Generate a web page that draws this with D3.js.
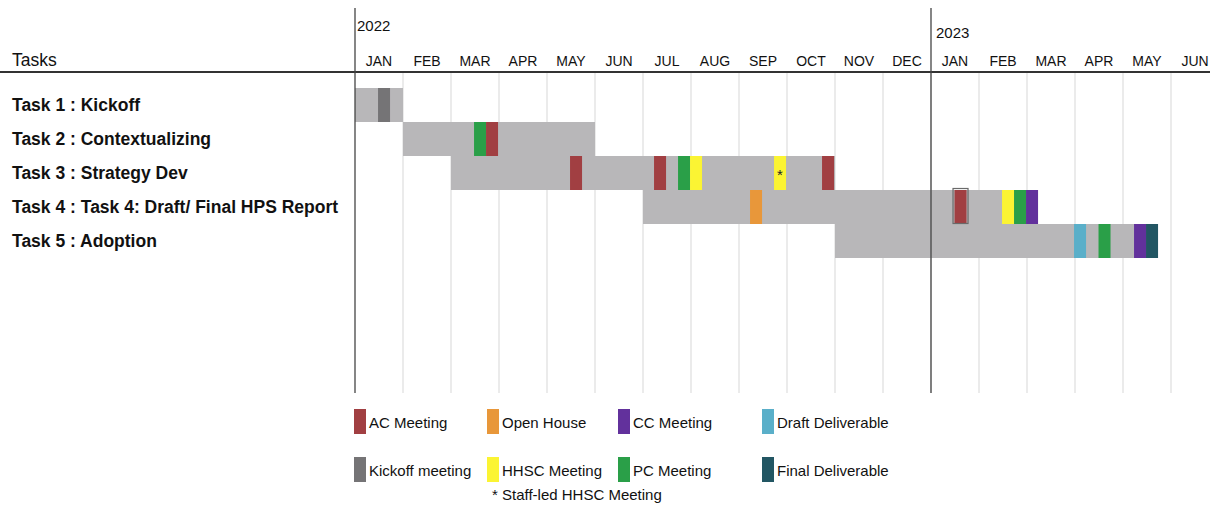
<!DOCTYPE html>
<html>
<head>
<meta charset="utf-8">
<script src="https://cdn.jsdelivr.net/npm/d3@7"></script>
<style>
  body { margin: 0; background: #fff; }
  svg { display: block; font-family: "Liberation Sans", Arial, sans-serif; }
</style>
</head>
<body>
<svg id="chart" width="1210" height="506"></svg>
<script>
// months shown on the timeline (Jan 2022 .. Jun 2023)
const months = ["JAN", "FEB", "MAR", "APR", "MAY", "JUN", "JUL", "AUG", "SEP", "OCT", "NOV", "DEC",
                "JAN", "FEB", "MAR", "APR", "MAY", "JUN"];
const years = [{ label: "2022", at: 0 }, { label: "2023", at: 12 }];

const tasks = ["Task 1 : Kickoff", "Task 2 : Contextualizing", "Task 3 : Strategy Dev",
               "Task 4 : Task 4: Draft/ Final HPS Report", "Task 5 : Adoption"];
// in month units from Jan 2022
const taskStart = [0, 1, 2, 6, 10];
const taskEnd = [1, 5, 10, 14.23, 16.73];

// milestones: task index, type, month position
const milestoneTask = [0, 1, 1, 2, 2, 2, 2, 2, 2, 3, 3, 3, 3, 3, 4, 4, 4, 4];
const milestoneType = ["kick", "pc", "ac", "ac", "ac", "pc", "hhsc", "hhsc*", "ac",
                       "open", "ac", "hhsc", "pc", "cc", "draft", "pc", "cc", "final"];
const milestoneAt = [0.48, 2.48, 2.73, 4.48, 6.23, 6.73, 6.98, 8.73, 9.73,
                     8.23, 12.49, 13.48, 13.73, 13.98, 14.98, 15.49, 16.23, 16.48];

const legendKeys = ["ac", "open", "cc", "draft", "kick", "hhsc", "pc", "final"];
const legendLabels = ["AC Meeting", "Open House", "CC Meeting", "Draft Deliverable",
                      "Kickoff meeting", "HHSC Meeting", "PC Meeting", "Final Deliverable"];

const colors = {
    ac: "#a13f42", open: "#e8973a", cc: "#62319c", draft: "#5aafc9",
    kick: "#757476", hhsc: "#fbf433", "hhsc*": "#fbf433", pc: "#2a9f48", final: "#225663"
};

const svg = d3.select("#chart");
const W = 1210;

const x = d3.scaleLinear().domain([0, 18]).range([355, 355 + 18 * 48]);
const y = d3.scaleBand().domain(d3.range(tasks.length)).range([88, 88 + 34 * tasks.length]).padding(0);
const gridTop = 72, gridBottom = 393;

// light month gridlines
svg.append("g")
    .selectAll("line")
    .data(d3.range(1, 18))
    .join("line")
    .attr("x1", d => x(d)).attr("x2", d => x(d))
    .attr("y1", gridTop).attr("y2", gridBottom)
    .attr("stroke", "#dedede")
    .attr("stroke-width", 1.2);

// task bars
svg.append("g")
    .selectAll("rect")
    .data(tasks)
    .join("rect")
    .attr("x", (d, i) => x(taskStart[i]))
    .attr("y", (d, i) => y(i))
    .attr("width", (d, i) => x(taskEnd[i]) - x(taskStart[i]))
    .attr("height", y.bandwidth())
    .attr("fill", "#b8b7b9");

// milestones
const ms = milestoneAt.map((m, i) => ({ at: m, task: milestoneTask[i], type: milestoneType[i] }));
svg.append("g")
    .selectAll("rect")
    .data(ms)
    .join("rect")
    .attr("x", d => x(d.at))
    .attr("y", d => y(d.task))
    .attr("width", x(0.25) - x(0))
    .attr("height", y.bandwidth())
    .attr("fill", d => colors[d.type]);

svg.append("g")
    .selectAll("text")
    .data(ms.filter(d => d.type === "hhsc*"))
    .join("text")
    .attr("x", d => x(d.at + 0.125))
    .attr("y", d => y(d.task) + y.bandwidth() / 2 + 7)
    .attr("text-anchor", "middle")
    .attr("font-size", 15)
    .attr("fill", "#222")
    .text("*");

// selection outline left on the Jan 2023 AC meeting
const sel = ms[10];
svg.append("rect")
    .attr("x", x(sel.at) - 1.5)
    .attr("y", y(sel.task) - 1.5)
    .attr("width", x(0.25) - x(0) + 3)
    .attr("height", y.bandwidth() + 1)
    .attr("fill", "none")
    .attr("stroke", "#6a6a6a")
    .attr("stroke-width", 1.2);

// axis & year lines
svg.append("line")
    .attr("x1", 0).attr("x2", W)
    .attr("y1", gridTop).attr("y2", gridTop)
    .attr("stroke", "#333").attr("stroke-width", 1.8);

svg.append("g")
    .selectAll("line")
    .data(years)
    .join("line")
    .attr("x1", d => x(d.at)).attr("x2", d => x(d.at))
    .attr("y1", 8).attr("y2", gridBottom)
    .attr("stroke", "#444").attr("stroke-width", 1.3);

svg.append("g")
    .selectAll("text")
    .data(years)
    .join("text")
    .attr("x", d => x(d.at) + (d.at === 0 ? 2 : 5))
    .attr("y", d => d.at === 0 ? 31 : 38)
    .attr("font-size", 15)
    .attr("fill", "#111")
    .text(d => d.label);

svg.append("g")
    .selectAll("text")
    .data(months)
    .join("text")
    .attr("x", (d, i) => x(i + 0.5))
    .attr("y", 66)
    .attr("text-anchor", "middle")
    .attr("font-size", 14)
    .attr("fill", "#111")
    .text(d => d);

svg.append("text")
    .attr("x", 12).attr("y", 66)
    .attr("font-size", 17.5)
    .attr("fill", "#111")
    .text("Tasks");

svg.append("g")
    .selectAll("text")
    .data(tasks)
    .join("text")
    .attr("x", 12)
    .attr("y", (d, i) => y(i) + y.bandwidth() / 2 + 6)
    .attr("font-size", 17.5)
    .attr("font-weight", "bold")
    .attr("fill", "#111")
    .text(d => d);

// legend
const legX = [354, 487, 618, 762];
const legY = [409, 457];
const leg = svg.append("g")
    .selectAll("g")
    .data(legendKeys)
    .join("g")
    .attr("transform", (d, i) => `translate(${legX[i % 4]},${legY[Math.floor(i / 4)]})`);

leg.append("rect")
    .attr("width", 12).attr("height", 25)
    .attr("fill", d => colors[d]);

leg.append("text")
    .attr("x", 15).attr("y", 19)
    .attr("font-size", 15)
    .attr("fill", "#111")
    .text((d, i) => legendLabels[i]);

svg.append("text")
    .attr("x", 492).attr("y", 500)
    .attr("font-size", 15)
    .attr("fill", "#111")
    .text("* Staff-led HHSC Meeting");
</script>
</body>
</html>
